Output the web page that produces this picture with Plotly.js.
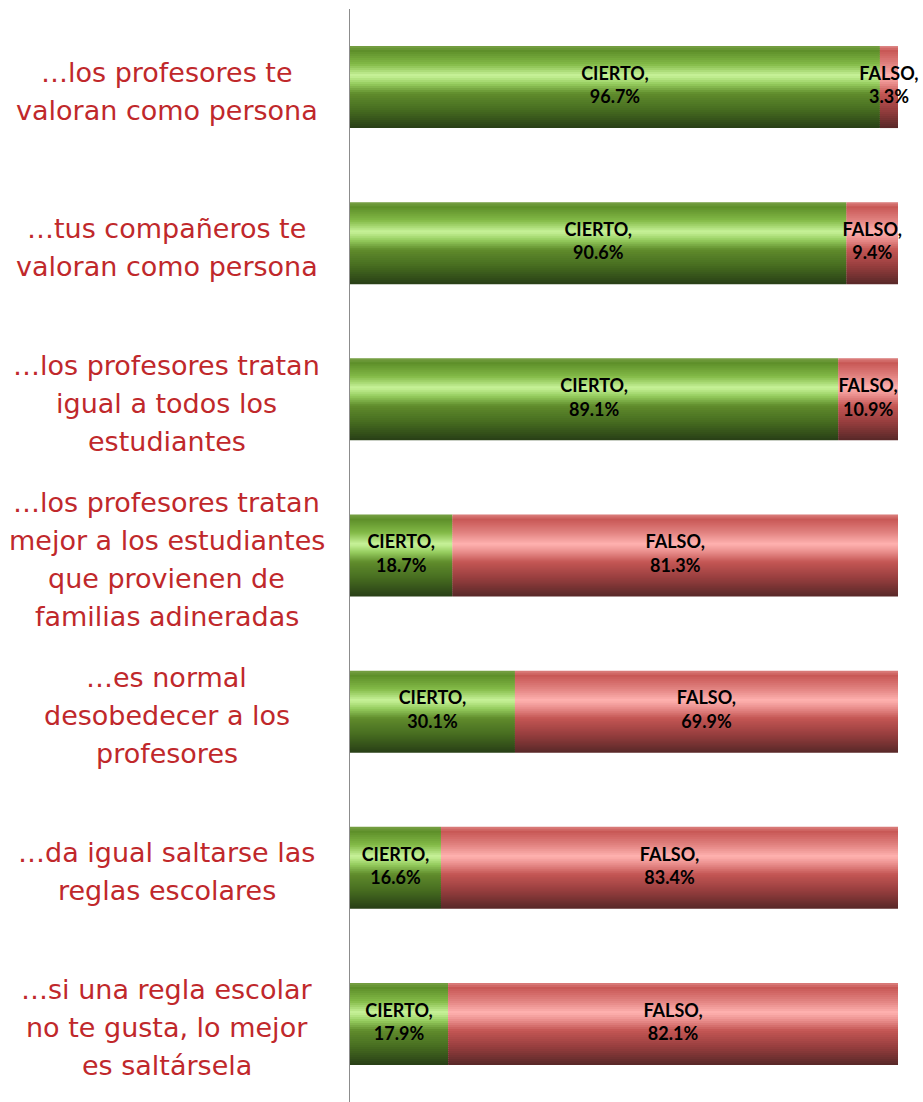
<!DOCTYPE html>
<html>
<head>
<meta charset="utf-8">
<script src="https://cdn.plot.ly/plotly-3.0.1.min.js"></script>
<style>html,body{margin:0;padding:0;background:#fff;}#chart{width:923px;height:1102px;}</style>
</head>
<body>
<div id="chart"></div>
<script>
// ---- data ----
const categories = [
  "…los profesores te<br>valoran como persona",
  "…tus compañeros te<br>valoran como persona",
  "…los profesores tratan<br>igual a todos los<br>estudiantes",
  "…los profesores tratan<br>mejor a los estudiantes<br>que provienen de<br>familias adineradas",
  "…es normal<br>desobedecer a los<br>profesores",
  "…da igual saltarse las<br>reglas escolares",
  "…si una regla escolar<br>no te gusta, lo mejor<br>es saltársela"
];
const seriesNames = ["CIERTO", "FALSO"];
const cierto = [96.7, 90.6, 89.1, 18.7, 30.1, 16.6, 17.9];
const falso  = [3.3, 9.4, 10.9, 81.3, 69.9, 83.4, 82.1];

// ---- styling ----
const BAR_W = 0.525;
const N_STRIPES = 41;
const greenStops = [
  [0.00, [120,160,70]], [0.06, [94,143,42]], [0.22, [130,185,70]], [0.36, [200,243,154]],
  [0.46, [150,205,95]], [0.58, [96,140,44]], [0.78, [70,108,32]], [1.00, [40,62,22]]
];
const redStops = [
  [0.00, [220,130,128]], [0.06, [200,88,86]], [0.22, [225,130,128]], [0.36, [255,178,176]],
  [0.46, [232,140,138]], [0.58, [196,86,84]], [0.78, [150,62,62]], [1.00, [88,40,40]]
];
function interp(stops, t) {
  for (let i = 0; i < stops.length - 1; i++) {
    const [t0, c0] = stops[i], [t1, c1] = stops[i + 1];
    if (t >= t0 && t <= t1) {
      const f = (t - t0) / (t1 - t0);
      const c = c0.map((v, k) => Math.round(v + (c1[k] - v) * f));
      return `rgb(${c[0]},${c[1]},${c[2]})`;
    }
  }
  const c = stops[stops.length - 1][1];
  return `rgb(${c[0]},${c[1]},${c[2]})`;
}

const traces = [];
const zeros = cierto.map(() => 0);
const sw = BAR_W / N_STRIPES;
[[cierto, zeros, greenStops], [falso, cierto, redStops]].forEach(([vals, base, stops]) => {
  for (let s = 0; s < N_STRIPES; s++) {
    const t = (s + 0.5) / N_STRIPES;
    const last = s === N_STRIPES - 1;
    traces.push({
      type: 'bar', orientation: 'h',
      y: categories, x: vals, base: base,
      width: last ? sw : sw * 1.6, offset: -BAR_W / 2 + s * sw,
      marker: {color: interp(stops, t), line: {width: 0}},
      hoverinfo: 'skip', showlegend: false
    });
  }
});

// value labels
traces.push({
  type: 'scatter', mode: 'text',
  y: categories.concat(categories),
  x: cierto.map(v => v / 2).concat(falso.map((v, i) => cierto[i] + v / 2)),
  text: cierto.map(v => seriesNames[0] + ',<br>' + v.toFixed(1) + '%')
        .concat(falso.map(v => seriesNames[1] + ',<br>' + v.toFixed(1) + '%')),
  textposition: 'middle center',
  textfont: {family: 'Lato, "Open Sans", sans-serif', size: 18, color: '#000', weight: 'bold'},
  cliponaxis: false, hoverinfo: 'skip', showlegend: false
});

// category labels (one annotation per line)
const LINE_H = 38;
const annotations = [];
categories.forEach((cat, i) => {
  const lines = cat.split('<br>');
  lines.forEach((ln, j) => {
    annotations.push({
      xref: 'paper', yref: 'y', x: -0.334, y: cat,
      xanchor: 'center', yanchor: 'middle',
      yshift: -((j - (lines.length - 1) / 2) * LINE_H) - 4,
      text: ln, showarrow: false,
      font: {family: '"DejaVu Sans", sans-serif', size: 27, color: '#c0282b'}
    });
  });
});

const layout = {
  width: 923, height: 1102,
  margin: {l: 350, r: 25, t: 9, b: 0},
  paper_bgcolor: '#fff', plot_bgcolor: '#fff',
  barmode: 'overlay',
  xaxis: {range: [0, 100], visible: false, fixedrange: true},
  yaxis: {
    type: 'category', autorange: 'reversed', showticklabels: false,
    showgrid: false, zeroline: false, ticks: '',
    showline: true, linecolor: '#8c8c8c', linewidth: 1.5
  },
  annotations: annotations,
  showlegend: false
};

Plotly.newPlot('chart', traces, layout, {displayModeBar: false, staticPlot: true});
</script>
</body>
</html>
